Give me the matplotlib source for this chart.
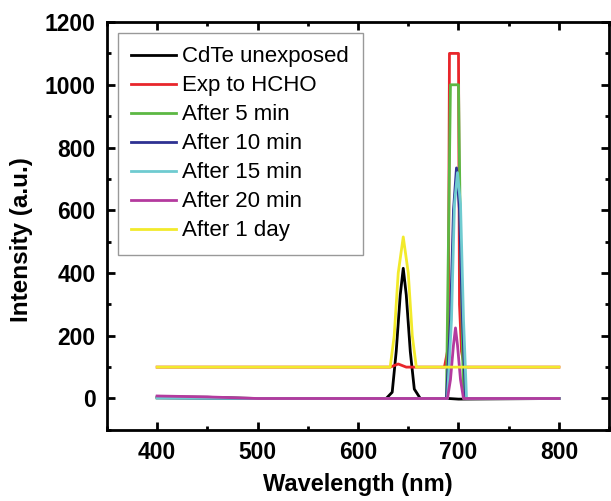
import numpy as np
import matplotlib.pyplot as plt
from matplotlib.ticker import MultipleLocator

plt.rcParams['font.family'] = ['Liberation Sans', 'DejaVu Sans']

# spectra (wavelength nm, intensity a.u.)
wl_unexp = [400, 450, 470, 500, 600, 628, 634, 638, 642, 645, 648, 652, 656, 662, 690, 700, 800]
int_unexp = [5, 4, 2, 0, 0, 0, 20, 150, 330, 415, 330, 150, 30, 0, 0, -2, 0]

wl_hcho = [400, 500, 600, 632, 640, 648, 686, 689, 690, 691, 700, 701, 703, 706, 800]
int_hcho = [100, 100, 100, 100, 110, 100, 100, 150, 300, 1100, 1100, 300, 150, 100, 100]

wl_5min = [400, 500, 600, 688, 690, 692, 700, 702, 705, 800]
int_5min = [2, 0, 0, 0, 500, 1000, 1000, 500, 0, 0]

wl_10min = [400, 500, 600, 688, 692, 695, 698, 701, 704, 707, 800]
int_10min = [2, 0, 0, 0, 250, 600, 735, 600, 250, 0, 0]

wl_15min = [400, 500, 600, 689, 693, 696, 699, 702, 705, 708, 800]
int_15min = [2, 0, 0, 0, 250, 620, 720, 620, 250, 0, 0]

wl_20min = [400, 450, 500, 600, 689, 692, 695, 697, 699, 702, 705, 800]
int_20min = [8, 5, 0, 0, 0, 60, 170, 225, 170, 60, 0, 0]

wl_1day = [400, 500, 600, 632, 636, 640, 645, 650, 654, 658, 700, 800]
int_1day = [100, 100, 100, 100, 200, 400, 515, 400, 200, 100, 100, 100]

series = [
    (wl_unexp, int_unexp, "black", "CdTe unexposed"),
    (wl_hcho, int_hcho, "#e8262b", "Exp to HCHO"),
    (wl_5min, int_5min, "#5cb843", "After 5 min"),
    (wl_10min, int_10min, "#2e3192", "After 10 min"),
    (wl_15min, int_15min, "#6fcbd0", "After 15 min"),
    (wl_20min, int_20min, "#b43a9e", "After 20 min"),
    (wl_1day, int_1day, "#f2ea2b", "After 1 day"),
]

fig = plt.figure(figsize=(6.11, 5.01), dpi=100)
ax = fig.add_axes([0.175, 0.142, 0.822, 0.814])

for x, y, c, lab in series:
    ax.plot(x, y, color=c, lw=2, label=lab)

ax.set_xlim(350, 850)
ax.set_ylim(-100, 1200)
ax.xaxis.set_major_locator(MultipleLocator(100))
ax.xaxis.set_minor_locator(MultipleLocator(50))
ax.yaxis.set_major_locator(MultipleLocator(200))
ax.yaxis.set_minor_locator(MultipleLocator(100))
ax.tick_params(which="both", direction="in", top=True, right=True, width=2)
ax.tick_params(which="major", length=6, labelsize=16.5, pad=8)
ax.tick_params(which="minor", length=3)
for lbl in ax.get_xticklabels() + ax.get_yticklabels():
    lbl.set_fontweight("bold")
for s in ax.spines.values():
    s.set_linewidth(2)

ax.set_xlabel("Wavelength (nm)", fontsize=17, fontweight="bold")
ax.xaxis.set_label_coords(0.5, -0.105)
ax.set_ylabel("Intensity (a.u.)", fontsize=17.5, fontweight="bold")
ax.yaxis.set_label_coords(-0.147, 0.466)

leg = ax.legend(loc="upper left", fontsize=16, frameon=True, fancybox=False,
                edgecolor="gray", labelspacing=0.36, handlelength=2.0,
                handletextpad=0.3, borderaxespad=0.5, borderpad=0.6)
leg.get_frame().set_linewidth(1)

fig.savefig("out.png", dpi=100)
